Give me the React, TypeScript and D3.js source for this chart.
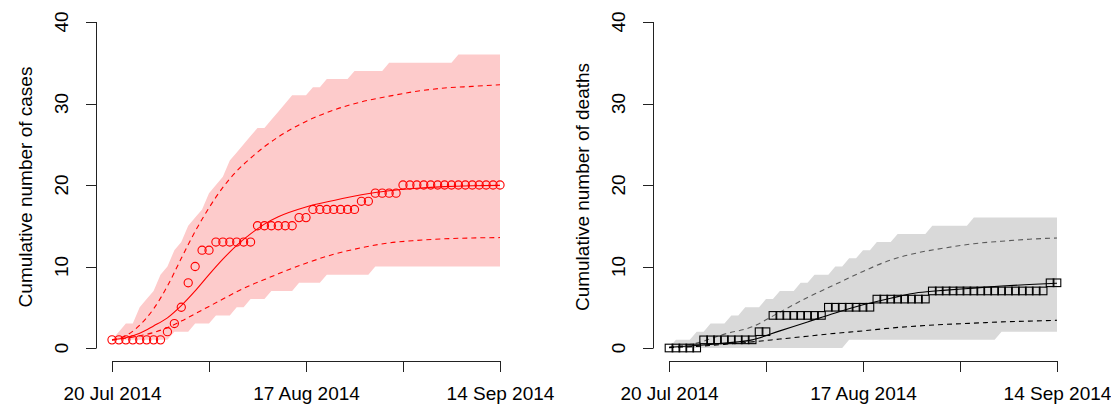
import * as d3 from 'd3';

// daily observations, 20 Jul 2014 .. 14 Sep 2014 (57 days)
const cases = [
  1, 1, 1, 1, 1, 1, 1, 1, 2, 3, 5, 8, 10, 12, 12,
  13, 13, 13, 13, 13, 13, 15, 15, 15, 15, 15, 15, 16, 16,
  17, 17, 17, 17, 17, 17, 17, 18, 18, 19, 19, 19, 19,
  20, 20, 20, 20, 20, 20, 20, 20, 20, 20, 20, 20, 20, 20, 20,
];
const deaths = [
  0, 0, 0, 0, 0, 1, 1, 1, 1, 1, 1, 1, 1, 2, 2,
  4, 4, 4, 4, 4, 4, 4, 4, 5, 5, 5, 5, 5, 5, 5,
  6, 6, 6, 6, 6, 6, 6, 6, 7, 7, 7, 7, 7, 7, 7, 7, 7, 7, 7, 7, 7, 7, 7, 7, 7, 8, 8,
];

// simulation envelope (per day)
const caseHi = [
  1, 2, 3, 3, 5, 6, 7, 9, 10, 12, 13, 15, 16, 17, 19, 20, 21, 23, 24, 25, 26, 27, 27,
  28, 29, 30, 31, 31, 31, 32, 32, 33, 33, 33, 33, 34, 34, 34, 34, 34,
  35, 35, 35, 35, 35, 35, 35, 35, 35, 35, 36, 36, 36, 36, 36, 36, 36,
];
const caseLo = [
  1, 1, 1, 1, 1, 1, 1, 1, 1, 2, 2, 2, 3, 3, 3, 4, 4, 4, 5, 5, 6, 6, 6,
  7, 7, 7, 7, 8, 8, 8, 8, 9, 9, 9, 9, 9, 9, 9,
  10, 10, 10, 10, 10, 10, 10, 10, 10, 10, 10, 10, 10, 10, 10, 10, 10, 10, 10,
];
const deathHi = [
  0, 1, 1, 1, 2, 2, 3, 3, 3, 4, 4, 5, 5, 5, 6, 6, 7, 7, 7, 8, 8, 9, 9, 9,
  10, 10, 11, 11, 12, 12, 13, 13, 13, 14, 14, 14, 14, 14,
  15, 15, 15, 15, 15, 15, 16, 16, 16, 16, 16, 16, 16, 16, 16, 16, 16, 16, 16,
];
const deathLo = [
  0, 0, 0, 0, 0, 0, 0, 0, 0, 0, 0, 0, 0, 0, 0, 0, 0, 0, 0, 0, 0, 0, 0, 0, 0, 0,
  1, 1, 1, 1, 1, 1, 1, 1, 1, 1, 1, 1, 1, 1, 1, 1, 1, 1, 1, 1, 1, 1,
  2, 2, 2, 2, 2, 2, 2, 2, 2,
];

// fitted curves, read at these days
const fitDays = [0, 2, 4, 6, 8, 10, 12, 14, 16, 18, 20, 22, 24, 28, 32, 36, 40, 44, 48, 52, 56];
const caseFit = [1, 1.25, 1.8, 2.7, 3.7, 5.2, 7.0, 9.0, 10.9, 12.6, 14.0, 15.2, 16.1, 17.3, 18.1, 18.8, 19.3, 19.6, 19.8, 19.9, 19.95];
const caseFitHi = [1, 1.5, 2.8, 4.8, 7.6, 11.0, 14.3, 17.2, 19.7, 21.7, 23.3, 24.7, 25.9, 27.8, 29.2, 30.2, 30.9, 31.5, 31.9, 32.1, 32.3];
const caseFitLo = [1, 1.2, 1.5, 1.9, 2.5, 3.3, 4.2, 5.1, 6.0, 6.9, 7.7, 8.4, 9.1, 10.4, 11.5, 12.3, 12.9, 13.2, 13.4, 13.5, 13.55];

const deathFitDays = [0, 4, 8, 12, 16, 20, 24, 28, 32, 36, 40, 44, 48, 52, 56];
const deathFit = [0.1, 0.3, 0.6, 1.0, 2.1, 3.2, 4.3, 5.3, 6.1, 6.8, 7.1, 7.35, 7.6, 7.8, 7.95];
const deathFitHi = [0.1, 0.6, 1.7, 2.6, 4.4, 6.2, 7.8, 9.4, 10.8, 11.7, 12.3, 12.8, 13.1, 13.35, 13.5];
const deathFitLo = [0.05, 0.2, 0.45, 0.75, 1.1, 1.45, 1.8, 2.1, 2.45, 2.7, 2.9, 3.05, 3.2, 3.3, 3.4];

const yTicks = [0, 10, 20, 30, 40];
const xTickDates = ['2014-07-20', '2014-08-03', '2014-08-17', '2014-08-31', '2014-09-14'];
const xTickLabels = ['20 Jul 2014', '', '17 Aug 2014', '', '14 Sep 2014'];

const START = new Date(2014, 6, 20);
const END = new Date(2014, 8, 14);
const FONT = '"Liberation Sans", Arial, Helvetica, sans-serif';
const FS = 19;

const parseDay = (s: string) => {
  const [y, m, d] = s.split('-').map(Number);
  return new Date(y, m - 1, d);
};
const dayDate = (i: number) => d3.timeDay.offset(START, i);

interface PanelProps {
  x0: number;
  title: string;
  obs: number[];
  hi: number[];
  lo: number[];
  fDays: number[];
  fit: number[];
  fitHi: number[];
  fitLo: number[];
  band: string;
  col: string;
  colHi: string;
  marker: 'circle' | 'square';
}

function Panel(p: PanelProps) {
  const x = d3.scaleTime().domain([START, END]).range([p.x0, p.x0 + 388]);
  const y = d3.scaleLinear().domain([0, 40]).range([348, 22]);
  const axisX = p.x0 - 16; // y axis position
  const axisY = 361; // x axis position

  const area = d3.area<number>()
    .x((_, i) => x(dayDate(i)))
    .y0((_, i) => y(p.lo[i]))
    .y1(d => y(d));
  const fitLine = (vals: number[]) => d3.line<number>()
    .x((_, i) => x(dayDate(p.fDays[i])))
    .y(d => y(d))
    .curve(d3.curveMonotoneX)(vals) || '';

  return (
    <g fontFamily={FONT}>
      <path d={area(p.hi) || ''} fill={p.band} stroke="none" />
      <path d={fitLine(p.fitHi)} fill="none" stroke={p.colHi} strokeWidth={1.1} strokeDasharray="5,4" />
      <path d={fitLine(p.fitLo)} fill="none" stroke={p.col} strokeWidth={1.1} strokeDasharray="5,4" />
      <path d={fitLine(p.fit)} fill="none" stroke={p.col} strokeWidth={1.1} />
      {p.obs.map((v, i) =>
        p.marker === 'circle' ? (
          <circle key={i} cx={x(dayDate(i))} cy={y(v)} r={4.1} fill="none" stroke={p.col} strokeWidth={1.1} />
        ) : (
          <rect key={i} x={x(dayDate(i)) - 3.8} y={y(v) - 3.8} width={7.6} height={7.6} fill="none" stroke={p.col} strokeWidth={1.1} />
        )
      )}

      {/* y axis */}
      <line x1={axisX + 0.5} x2={axisX + 0.5} y1={y(0)} y2={y(40)} stroke="#222" />
      {yTicks.map(t => (
        <g key={t}>
          <line x1={axisX - 10} x2={axisX + 0.5} y1={Math.round(y(t)) + 0.5} y2={Math.round(y(t)) + 0.5} stroke="#222" />
          <text transform={`translate(${axisX - 28},${y(t)}) rotate(-90)`} textAnchor="middle" fontSize={FS} fill="#000">{t}</text>
        </g>
      ))}
      <text transform={`translate(${axisX - 64},187) rotate(-90)`} textAnchor="middle" fontSize={FS} fill="#000">{p.title}</text>

      {/* x axis */}
      <line x1={x(START)} x2={x(END)} y1={axisY + 0.5} y2={axisY + 0.5} stroke="#222" />
      {xTickDates.map((s, i) => {
        const px = Math.round(x(parseDay(s))) + 0.5;
        return (
          <g key={s}>
            <line x1={px} x2={px} y1={axisY} y2={axisY + 11} stroke="#222" />
            {xTickLabels[i] && (
              <text x={px} y={400} textAnchor="middle" fontSize={FS} fill="#000">{xTickLabels[i]}</text>
            )}
          </g>
        );
      })}
    </g>
  );
}

export default function App() {
  return (
    <svg width={1111} height={404} style={{ position: 'absolute', left: 0, top: 0, background: '#fff' }}>
      <rect width={1111} height={404} fill="#fff" />
      <Panel x0={112} title="Cumulative number of cases" obs={cases} hi={caseHi} lo={caseLo}
        fDays={fitDays} fit={caseFit} fitHi={caseFitHi} fitLo={caseFitLo}
        band="#fdcbcb" col="#ff0000" colHi="#ff0000" marker="circle" />
      <Panel x0={669} title="Cumulative number of deaths" obs={deaths} hi={deathHi} lo={deathLo}
        fDays={deathFitDays} fit={deathFit} fitHi={deathFitHi} fitLo={deathFitLo}
        band="#d9d9d9" col="#000000" colHi="#5a5a5a" marker="square" />
    </svg>
  );
}
